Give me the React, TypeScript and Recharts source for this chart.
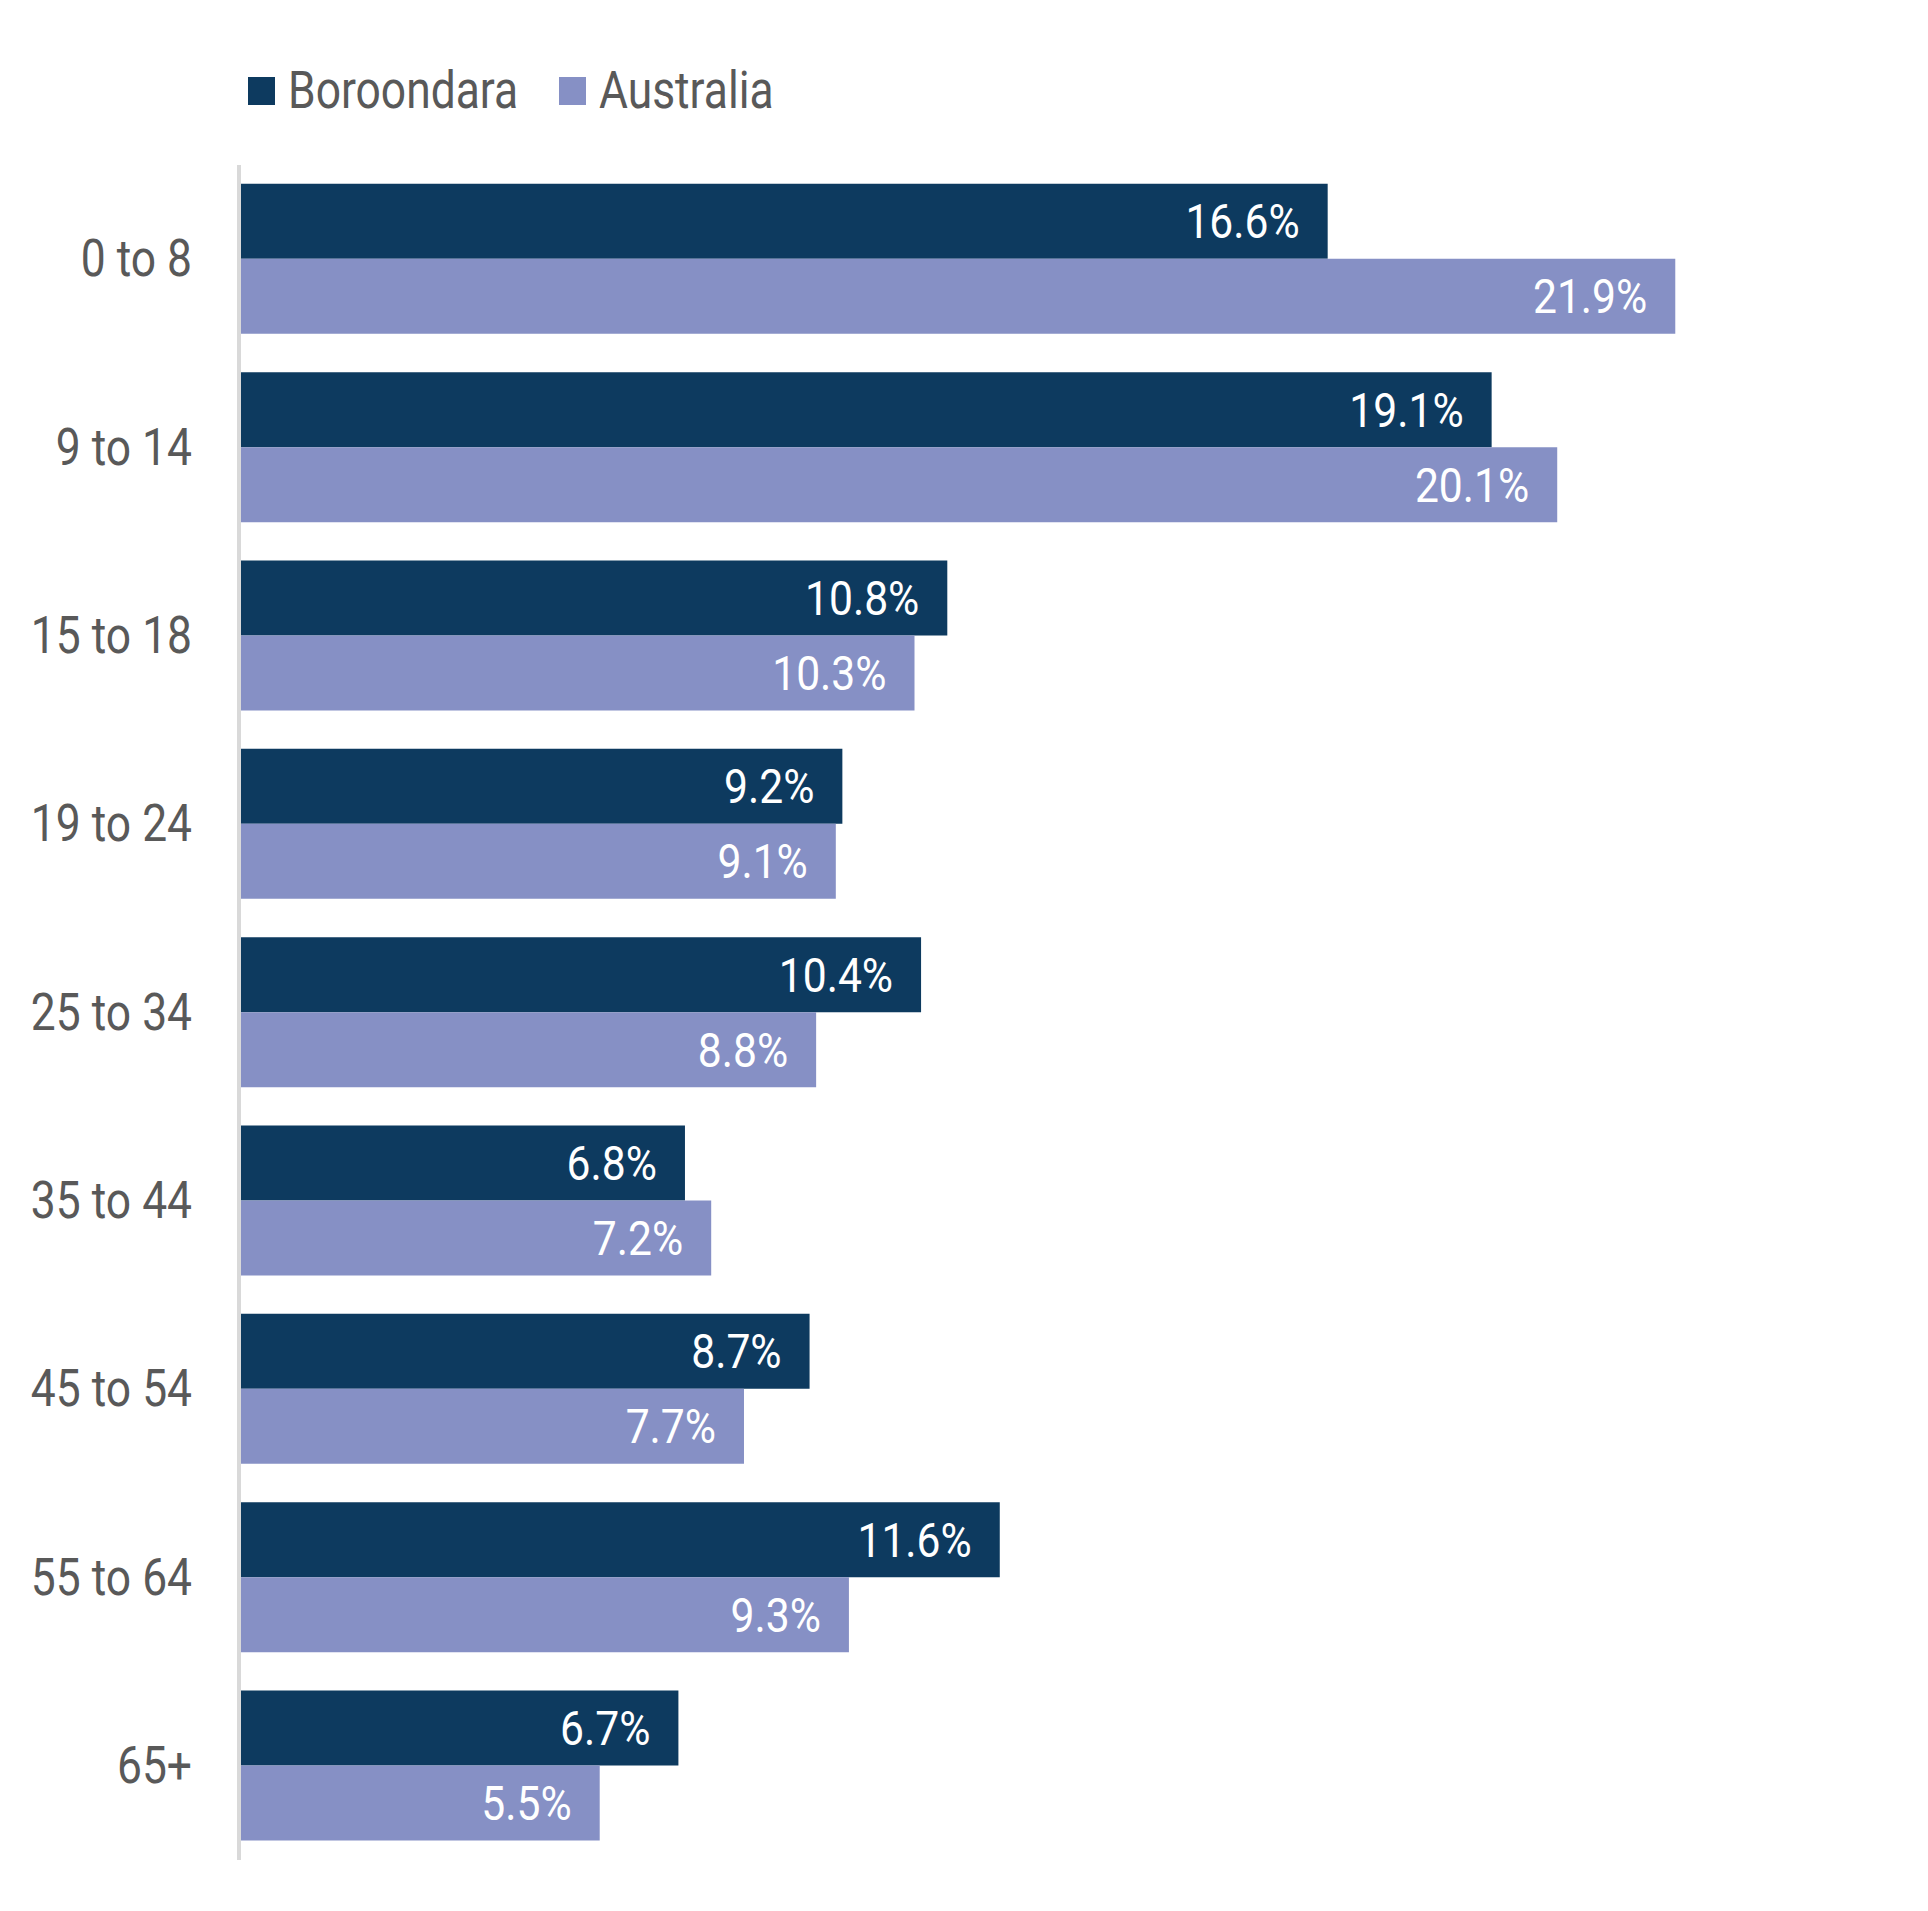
import { BarChart, Bar, XAxis, YAxis, Legend, LabelList } from "recharts";

const groups = ["0 to 8", "9 to 14", "15 to 18", "19 to 24", "25 to 34", "35 to 44", "45 to 54", "55 to 64", "65+"];
const boroondara = [16.6, 19.1, 10.8, 9.2, 10.4, 6.8, 8.7, 11.6, 6.7];
const australia = [21.9, 20.1, 10.3, 9.1, 8.8, 7.2, 7.7, 9.3, 5.5];

const series = [
  { key: "boroondara", name: "Boroondara", color: "#0d3a5f" },
  { key: "australia", name: "Australia", color: "#8690c5" },
];

const data = groups.map((group, i) => ({
  group,
  boroondara: boroondara[i],
  australia: australia[i],
}));

const FONT = "Roboto, 'Liberation Sans', sans-serif";
const SQUEEZE = 0.87; // fake a condensed face

function AgeTick(props: any) {
  const { x, y, payload } = props;
  return (
    <g transform={`translate(${x},${y}) scale(${SQUEEZE},1)`}>
      <text x={0} y={0} textAnchor="end" dominantBaseline="central" fontSize={51} fill="#595959" fontFamily={FONT}>
        {payload.value}
      </text>
    </g>
  );
}

function BarValue(props: any) {
  const { x, y, width, height, value } = props;
  return (
    <g transform={`translate(${x + width - 28},${y + height / 2}) scale(${SQUEEZE},1)`}>
      <text x={0} y={0} textAnchor="end" dominantBaseline="central" fontSize={49} fill="#ffffff" fontFamily={FONT}>
        {Number(value).toFixed(1)}%
      </text>
    </g>
  );
}

function LegendRow() {
  return (
    <div style={{ position: "relative", height: 0 }}>
      {series.map((s, i) => (
        <div
          key={s.key}
          style={{
            position: "absolute",
            left: 248 + i * 311,
            top: 66,
            display: "flex",
            alignItems: "center",
            height: 50,
            whiteSpace: "nowrap",
          }}
        >
          <span style={{ width: 27, height: 28, background: s.color, display: "inline-block" }} />
          <span
            style={{
              marginLeft: 13,
              fontSize: 51,
              lineHeight: "50px",
              color: "#595959",
              fontFamily: FONT,
              display: "inline-block",
              transform: `scaleX(${SQUEEZE})`,
              transformOrigin: "left center",
            }}
          >
            {s.name}
          </span>
        </div>
      ))}
    </div>
  );
}

export default function App() {
  return (
    <div style={{ position: "absolute", left: 0, top: 0, width: 1928, height: 1911, background: "#fff" }}>
      <BarChart
        width={1928}
        height={1911}
        data={data}
        layout="vertical"
        margin={{ top: 165, right: 115, bottom: 51, left: 0 }}
        barCategoryGap="10%"
        barGap={0}
      >
        <XAxis type="number" domain={[0, 24]} hide />
        <YAxis
          type="category"
          dataKey="group"
          width={239}
          axisLine={{ stroke: "#d9d9d9", strokeWidth: 4 }}
          tickLine={false}
          tickMargin={41}
          tick={<AgeTick />}
          interval={0}
        />
        <Legend verticalAlign="top" wrapperStyle={{ top: 0, left: 0, width: 1928, height: 0 }} content={() => <LegendRow />} />
        {series.map((s) => (
          <Bar key={s.key} dataKey={s.key} name={s.name} fill={s.color} isAnimationActive={false}>
            <LabelList dataKey={s.key} content={<BarValue />} />
          </Bar>
        ))}
      </BarChart>
    </div>
  );
}
